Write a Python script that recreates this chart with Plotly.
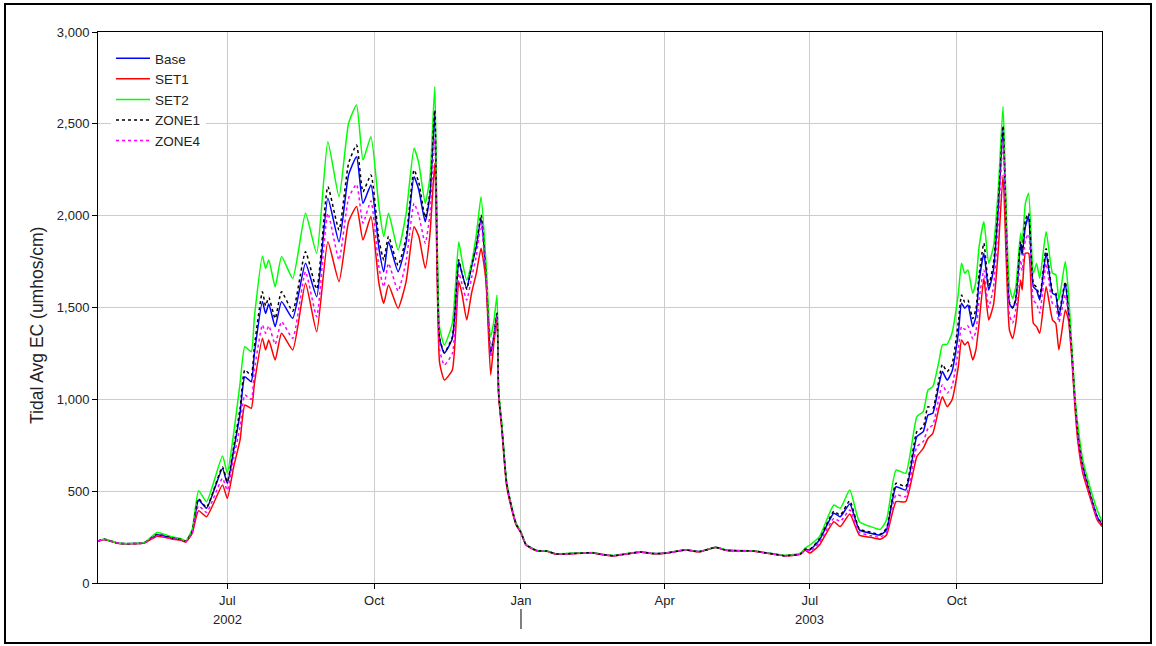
import plotly.graph_objects as go

dates = [
    "2002-04-11", "2002-04-15", "2002-04-24", "2002-05-10", "2002-05-18", "2002-05-27",
    "2002-06-02", "2002-06-05", "2002-06-09", "2002-06-13", "2002-06-18", "2002-06-28",
    "2002-07-01", "2002-07-05", "2002-07-09", "2002-07-12", "2002-07-16", "2002-07-18",
    "2002-07-23", "2002-07-25", "2002-07-27", "2002-07-31", "2002-08-04", "2002-08-11",
    "2002-08-19", "2002-08-26", "2002-09-02", "2002-09-09", "2002-09-15", "2002-09-20",
    "2002-09-24", "2002-09-29", "2002-10-04", "2002-10-07", "2002-10-10", "2002-10-16",
    "2002-10-21", "2002-10-26", "2002-10-29", "2002-11-02", "2002-11-05", "2002-11-08",
    "2002-11-11", "2002-11-14", "2002-11-19", "2002-11-23", "2002-11-25", "2002-11-28",
    "2002-12-01", "2002-12-04", "2002-12-07", "2002-12-10", "2002-12-13", "2002-12-15",
    "2002-12-17", "2002-12-18", "2002-12-20", "2002-12-23", "2002-12-27", "2002-12-29",
    "2003-01-01", "2003-01-04", "2003-01-06", "2003-01-11", "2003-01-17", "2003-01-23",
    "2003-02-15", "2003-02-19", "2003-02-28", "2003-03-17", "2003-03-25", "2003-04-02",
    "2003-04-14", "2003-04-23", "2003-05-03", "2003-05-10", "2003-05-27", "2003-06-15",
    "2003-06-25", "2003-06-28", "2003-07-01", "2003-07-07", "2003-07-16", "2003-07-20",
    "2003-07-26", "2003-08-01", "2003-08-08", "2003-08-14", "2003-08-18", "2003-08-24",
    "2003-08-30", "2003-09-06", "2003-09-10", "2003-09-13", "2003-09-16", "2003-09-20",
    "2003-09-22", "2003-09-25", "2003-09-28", "2003-10-02", "2003-10-04", "2003-10-06",
    "2003-10-08", "2003-10-11", "2003-10-13", "2003-10-15", "2003-10-18", "2003-10-21",
    "2003-10-24", "2003-10-27", "2003-10-30", "2003-11-01", "2003-11-03", "2003-11-05",
    "2003-11-07", "2003-11-10", "2003-11-11", "2003-11-13", "2003-11-15", "2003-11-18",
    "2003-11-20", "2003-11-22", "2003-11-26", "2003-11-30", "2003-12-02", "2003-12-04",
    "2003-12-08", "2003-12-10", "2003-12-12", "2003-12-14", "2003-12-16", "2003-12-19",
    "2003-12-24", "2003-12-28", "2003-12-31",
]

base = [
    229, 238, 216, 219, 262, 245,
    236, 226, 280, 452, 407, 624,
    543, 724, 924, 1123, 1096, 1251,
    1532, 1468, 1519, 1396, 1532, 1441,
    1741, 1559, 2095, 1858, 2222, 2321,
    2067, 2167, 1822, 1695, 1858, 1695,
    1850, 2212, 2140, 1967, 2113, 2566,
    1330, 1251, 1332, 1750, 1686, 1605,
    1722, 1831, 1986, 1686, 1251, 1341,
    1468, 1033, 851, 543, 380, 320,
    275, 210, 198, 176, 174, 158,
    165, 158, 149, 169, 160, 163,
    180, 171, 194, 178, 174, 149,
    158, 183, 180, 234, 380, 361,
    430, 289, 271, 261, 289, 524,
    506, 797, 824, 915, 924, 1087,
    1151, 1105, 1151, 1360, 1523, 1496,
    1514, 1396, 1450, 1641, 1795, 1595,
    1704, 2031, 2476, 1940, 1523, 1496,
    1541, 1850, 1786, 1940, 1995, 1613,
    1595, 1541, 1795, 1577, 1568, 1450,
    1632, 1468, 1269, 1000, 797, 633,
    470, 361, 316,
]

set1 = [
    229, 236, 215, 218, 255, 240,
    232, 223, 270, 394, 361, 534,
    461, 633, 779, 969, 951, 1087,
    1332, 1269, 1323, 1214, 1360, 1269,
    1632, 1368, 1858, 1641, 1967, 2050,
    1868, 1995, 1632, 1523, 1623, 1496,
    1640, 1940, 1886, 1714, 1904, 2285,
    1200, 1105, 1160, 1641, 1577, 1432,
    1577, 1686, 1822, 1650, 1133, 1305,
    1432, 1020, 830, 530, 372, 315,
    272, 208, 196, 175, 173, 157,
    164, 157, 148, 168, 159, 162,
    179, 170, 193, 177, 173, 148,
    156, 178, 163, 207, 334, 307,
    376, 261, 249, 238, 261, 443,
    443, 688, 733, 788, 815, 960,
    1014, 960, 996, 1178, 1323, 1296,
    1314, 1214, 1269, 1414, 1659, 1432,
    1514, 1813, 2222, 1759, 1378, 1332,
    1414, 1650, 1595, 1795, 1795, 1414,
    1396, 1360, 1613, 1432, 1414, 1269,
    1487, 1432, 1232, 963, 761, 597,
    452, 343, 307,
]

set2 = [
    229, 240, 217, 221, 275, 252,
    241, 230, 292, 503, 443, 691,
    600, 815, 1087, 1287, 1259, 1450,
    1780, 1713, 1759, 1613, 1777, 1659,
    2013, 1795, 2403, 2103, 2503, 2603,
    2303, 2430, 2049, 1886, 2013, 1813,
    2010, 2367, 2285, 2067, 2212, 2702,
    1390, 1296, 1414, 1858, 1759, 1650,
    1741, 1895, 2103, 1759, 1341, 1423,
    1568, 1050, 870, 555, 388, 325,
    278, 212, 200, 178, 175, 159,
    166, 159, 150, 170, 161, 164,
    181, 172, 195, 179, 175, 151,
    162, 190, 207, 252, 425, 407,
    506, 334, 307, 292, 343, 615,
    597, 905, 933, 1051, 1069, 1214,
    1296, 1300, 1360, 1577, 1741, 1686,
    1704, 1577, 1641, 1831, 1967, 1741,
    1831, 2140, 2594, 2031, 1613, 1550,
    1613, 1904, 1850, 2067, 2122, 1686,
    1740, 1659, 1913, 1686, 1680, 1541,
    1750, 1577, 1305, 1033, 851, 670,
    506, 397, 334,
]

zone1 = [
    229, 238, 216, 219, 264, 246,
    236, 227, 283, 458, 412, 632,
    550, 740, 950, 1160, 1130, 1290,
    1586, 1510, 1555, 1440, 1586, 1480,
    1804, 1600, 2158, 1922, 2285, 2385,
    2130, 2222, 1870, 1759, 1886, 1730,
    1880, 2249, 2180, 1990, 2130, 2575,
    1335, 1255, 1340, 1760, 1690, 1600,
    1725, 1840, 2004, 1690, 1260, 1345,
    1470, 1033, 851, 543, 380, 320,
    275, 210, 198, 176, 174, 158,
    165, 158, 149, 169, 160, 163,
    180, 171, 194, 178, 174, 149,
    158, 184, 185, 240, 390, 370,
    447, 295, 277, 266, 298, 543,
    525, 824, 850, 960, 950, 1115,
    1190, 1151, 1190, 1420, 1568, 1530,
    1540, 1440, 1490, 1680, 1850, 1620,
    1740, 2060, 2490, 1950, 1530, 1500,
    1550, 1860, 1800, 1977, 2013, 1630,
    1610, 1560, 1820, 1590, 1580, 1470,
    1640, 1480, 1270, 1000, 800, 635,
    472, 362, 317,
]

zone4 = [
    229, 237, 216, 219, 258, 243,
    234, 225, 276, 420, 385, 570,
    505, 680, 851, 1024, 1000, 1160,
    1405, 1360, 1400, 1300, 1423, 1332,
    1695, 1450, 2013, 1759, 2095, 2170,
    1960, 2080, 1720, 1613, 1740, 1590,
    1750, 2067, 2000, 1850, 2010, 2420,
    1270, 1187, 1250, 1686, 1630, 1541,
    1660, 1780, 1960, 1670, 1230, 1330,
    1450, 1030, 845, 540, 378, 318,
    274, 209, 197, 176, 174, 158,
    165, 158, 149, 169, 160, 163,
    180, 171, 194, 178, 174, 149,
    157, 181, 172, 220, 352, 335,
    397, 275, 258, 249, 275, 479,
    470, 742, 770, 842, 860, 1014,
    1080, 1034, 1070, 1269, 1396, 1380,
    1400, 1330, 1370, 1541, 1704, 1500,
    1610, 1960, 2412, 1880, 1460, 1416,
    1490, 1759, 1700, 1868, 1900, 1540,
    1520, 1470, 1740, 1520, 1510, 1420,
    1570, 1450, 1250, 985, 780, 615,
    460, 352, 312,
]

series_names = ["Base", "SET1", "SET2", "ZONE1", "ZONE4"]
series_values = [base, set1, set2, zone1, zone4]
series_colors = ["#0000ff", "#ff0000", "#00ff00", "#000000", "#ff00ff"]
series_dash = ["solid", "solid", "solid", "3px,3px", "3px,3px"]

tick_dates = ["2002-07-01", "2002-10-01", "2003-01-01", "2003-04-01", "2003-07-01", "2003-10-01"]
tick_labels = ["Jul", "Oct", "Jan", "Apr", "Jul", "Oct"]
year_labels = ["2002", "2003"]
year_positions = ["2002-07-01", "2003-07-01"]
year_boundary = "2003-01-01"

y_ticks = [0, 500, 1000, 1500, 2000, 2500, 3000]

FONT = "Liberation Sans, Arial, sans-serif"
TXT = "#222222"

fig = go.Figure()
for name, vals, col, dash in zip(series_names, series_values, series_colors, series_dash):
    fig.add_trace(go.Scatter(
        x=dates, y=vals, name=name, mode="lines",
        line=dict(color=col, width=1.5, dash=dash, shape="spline", smoothing=0.5),
    ))

W, H = 1156, 646
L, R, T, B = 98, 54, 32, 63
pw, ph = W - L - R, H - T - B

def px_x(px):
    return (px - L) / pw

def px_y(py):
    return (H - B - py) / ph

fig.update_layout(
    width=W, height=H,
    margin=dict(l=L, r=R, t=T, b=B),
    paper_bgcolor="white", plot_bgcolor="white",
    font=dict(family=FONT, size=13, color=TXT),
    showlegend=True,
    legend=dict(
        x=px_x(111), y=px_y(43), xanchor="left", yanchor="top",
        bgcolor="white", borderwidth=0,
        font=dict(family=FONT, size=13.5, color=TXT),
        tracegroupgap=0, itemwidth=34,
    ),
    xaxis=dict(
        type="date",
        range=["2002-04-11", "2003-12-31"],
        tickvals=tick_dates, ticktext=tick_labels,
        showgrid=True, gridcolor="#cccccc", gridwidth=1,
        showline=True, linecolor="#000000", linewidth=1, mirror=True,
        ticks="outside", ticklen=5, tickcolor="#000000",
        tickfont=dict(family=FONT, size=13, color=TXT),
        zeroline=False,
    ),
    yaxis=dict(
        range=[0, 3000],
        tickvals=y_ticks, tickformat=",",
        showgrid=True, gridcolor="#cccccc", gridwidth=1,
        showline=True, linecolor="#000000", linewidth=1, mirror=True,
        ticks="outside", ticklen=5, tickcolor="#000000",
        tickfont=dict(family=FONT, size=13, color=TXT),
        zeroline=False,
    ),
)

for yl, yp in zip(year_labels, year_positions):
    fig.add_annotation(
        x=yp, xref="x", y=px_y(619), yref="paper",
        text=yl, showarrow=False, xanchor="center", yanchor="middle",
        font=dict(family=FONT, size=13, color=TXT),
    )

fig.add_shape(
    type="line", xref="x", yref="paper",
    x0=year_boundary, x1=year_boundary, y0=px_y(609), y1=px_y(629),
    line=dict(color="#000000", width=1),
)

fig.add_annotation(
    x=px_x(37), xref="paper", y=px_y(326), yref="paper",
    text="Tidal Avg EC (umhos/cm)", textangle=-90, showarrow=False,
    xanchor="center", yanchor="middle",
    font=dict(family=FONT, size=17.5, color=TXT),
)

fig.add_shape(
    type="rect", xref="paper", yref="paper",
    x0=px_x(5), x1=px_x(1151), y0=px_y(643), y1=px_y(4),
    line=dict(color="#000000", width=2), fillcolor="rgba(0,0,0,0)", layer="below",
)

fig.write_html(
    "out.html",
    config={"displayModeBar": False},
    post_script="document.body.style.margin='0px';document.body.style.overflow='hidden';",
)
